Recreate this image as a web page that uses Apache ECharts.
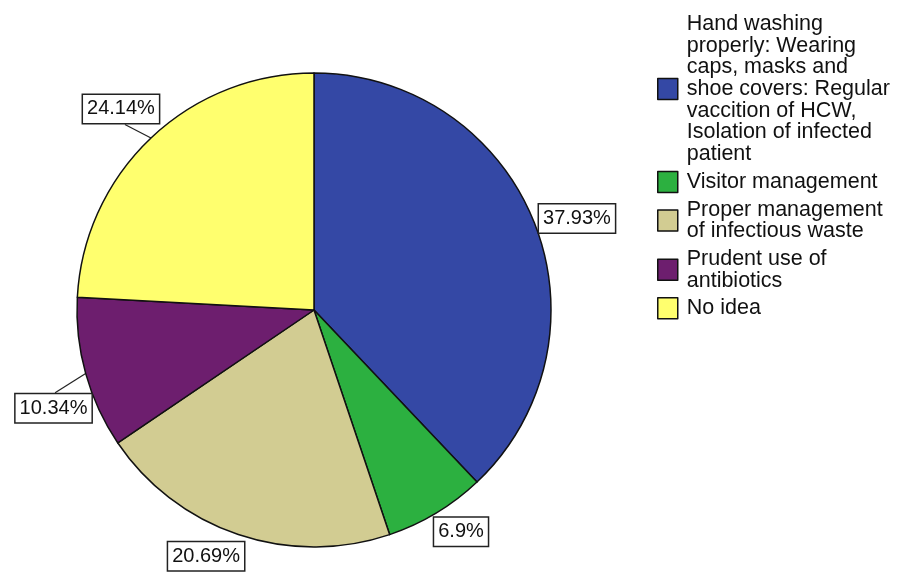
<!DOCTYPE html>
<html><head><meta charset="utf-8">
<script src="https://cdn.jsdelivr.net/npm/echarts@6/dist/echarts.min.js"></script>
<style>html,body{margin:0;padding:0;background:#fff}#c{width:901px;height:574px}</style>
</head><body><div id="c"></div>
<script>
const categories = [
  "Hand washing\nproperly: Wearing\ncaps, masks and\nshoe covers: Regular\nvaccition of HCW,\nIsolation of infected\npatient",
  "Visitor management",
  "Proper management\nof infectious waste",
  "Prudent use of\nantibiotics",
  "No idea"
];
const values = [37.93, 6.9, 20.69, 10.34, 24.14];
const colors = ["#3448a5", "#2cb040", "#d2cc92", "#6d1e6e", "#ffff6e"];
const lineLens = [2, 2, 4, 22, 22];
const labelShift = [[-2, -3], [-8, 17], [12, 18], [32, 29], [28, -13]];
// where the leader line meets the box: [fraction of width, 0 = top / 1 = bottom], null = no line
const lineEnds = [null, null, null, [0.52, 0], [0.55, 1]];

const chart = echarts.init(document.getElementById('c'), null, {renderer: 'canvas'});
chart.setOption({
  animation: false,
  legend: {
    orient: 'vertical', left: 652, top: 8, itemGap: 5.5,
    itemWidth: 20, itemHeight: 21, icon: 'rect',
    itemStyle: {borderColor: '#111', borderWidth: 1.5},
    textStyle: {fontFamily: 'Liberation Sans, Arial', fontSize: 21.5, lineHeight: 21.7, color: '#111', padding: [0, 0, 0, 4]},
    data: categories
  },
  series: [{
    type: 'pie', center: [314, 310], radius: 237, startAngle: 90, clockwise: true,
    avoidLabelOverlap: false,
    itemStyle: {borderColor: '#111', borderWidth: 1.5},
    label: {
      show: true, position: 'outside', formatter: '{c}%',
      fontFamily: 'Liberation Sans, Arial', fontSize: 20, color: '#111',
      backgroundColor: '#fff', borderColor: '#222', borderWidth: 1.5, padding: [5, 4, 3, 4]
    },
    labelLine: {show: true, length2: 0, lineStyle: {color: '#222', width: 1.2}},
    labelLayout: function (p) {
      const i = p.dataIndex;
      const s = labelShift[i];
      const r = p.labelRect;
      const start = p.labelLinePoints ? p.labelLinePoints[0] : [r.x, r.y];
      const e = lineEnds[i];
      let pts;
      if (e) {
        pts = [start, [r.x + s[0] + r.width * e[0], r.y + s[1] + r.height * e[1]]];
      } else {
        pts = [start, start];
      }
      return {dx: s[0], dy: s[1], labelLinePoints: pts};
    },
    emphasis: {disabled: true},
    data: categories.map((n, i) => ({
      name: n, value: values[i], itemStyle: {color: colors[i]},
      labelLine: {length: lineLens[i], length2: 0}
    }))
  }]
});
</script></body></html>
